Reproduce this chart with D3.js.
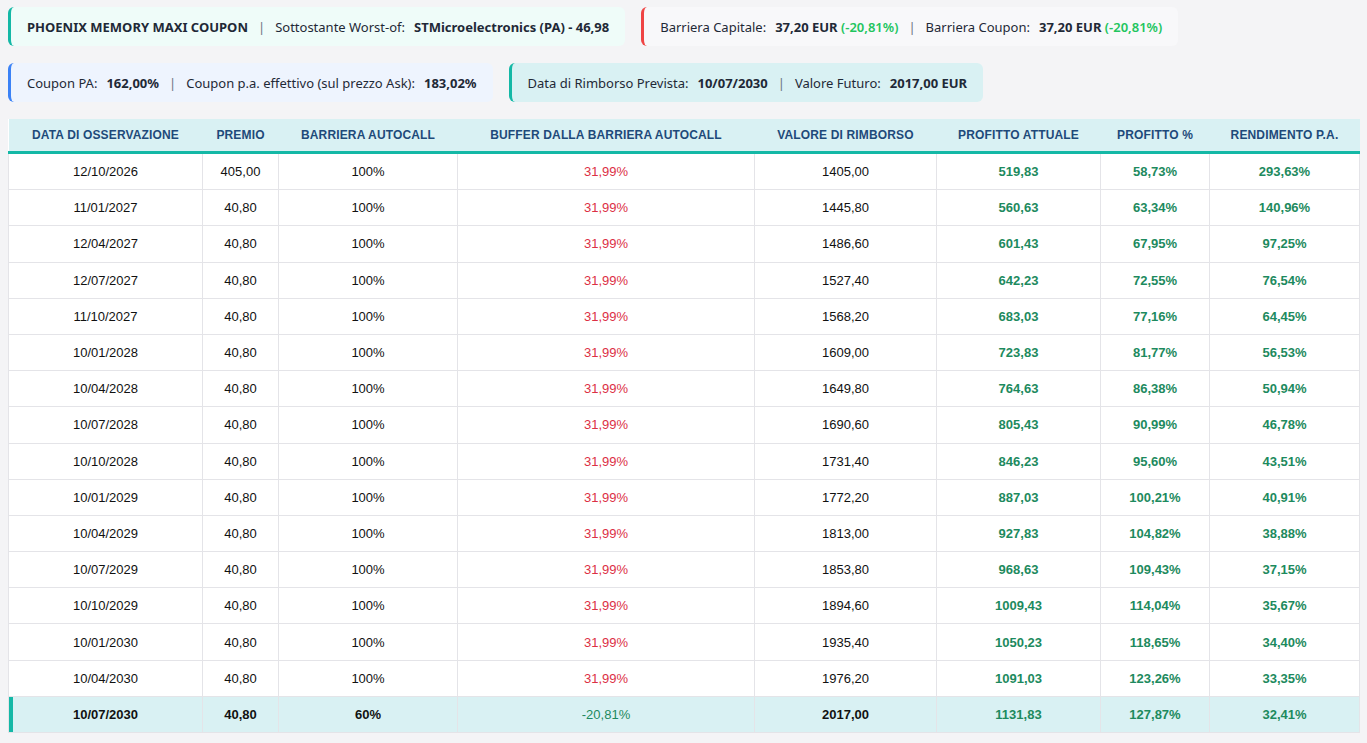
<!DOCTYPE html>
<html>
<head>
<meta charset="utf-8">
<script src="https://cdn.jsdelivr.net/npm/d3@7"></script>
<style>
  body { margin: 0; background: #f4f4f6; font-family: "Noto Sans", sans-serif; }
  #wrap { padding: 7px 8px; }
  .cards { display: flex; gap: 16px; margin-bottom: 17px; }
  .card { border-radius: 6px; border-left: 3px solid; padding: 0 16px 0 16px; height: 39px;
          display: flex; align-items: center; font-size: 13px; color: #1f2937; white-space: pre; }
  .card b { font-weight: 700; }
  .card b.v { margin-left: 9px; }
  .sep { color: #6b7280; margin: 0 10px; }
  .pos { color: #22c55e; font-weight: 600; }
  table { border-collapse: collapse; table-layout: fixed; width: 1351px; background: #fff;
          font-family: "Liberation Sans", Arial, sans-serif; margin-top: 1px; }
  th { background: #d9f1f3; color: #1e4a7a; font-size: 12px; font-weight: 700; height: 32px;
       border-bottom: 3px solid #14b8a6; padding: 0; letter-spacing: 0.15px; }
  td { height: 35.2px; text-align: center; font-size: 13px; color: #111; border: 1px solid #e4e4e8; padding: 0; }
  td.red { color: #dc2f45; }
  td.green { color: #1d8a5e; font-weight: 700; }
  tr.last td { background: #d9f1f3; font-weight: 700; }
  tr.last td:first-child { box-shadow: inset 4px 0 0 #14b8a6; }
</style>
</head>
<body>
<div id="wrap"></div>
<script>
// column headers
const headers = ["DATA DI OSSERVAZIONE", "PREMIO", "BARRIERA AUTOCALL", "BUFFER DALLA BARRIERA AUTOCALL",
  "VALORE DI RIMBORSO", "PROFITTO ATTUALE", "PROFITTO %", "RENDIMENTO P.A."];
const colWidths = [194, 76, 179, 297, 182, 164, 109, 150];

// table values
const dates = ["12/10/2026", "11/01/2027", "12/04/2027", "12/07/2027", "11/10/2027", "10/01/2028",
  "10/04/2028", "10/07/2028", "10/10/2028", "10/01/2029", "10/04/2029", "10/07/2029", "10/10/2029",
  "10/01/2030", "10/04/2030", "10/07/2030"];
const premi = ["405,00", "40,80", "40,80", "40,80", "40,80", "40,80", "40,80", "40,80", "40,80",
  "40,80", "40,80", "40,80", "40,80", "40,80", "40,80", "40,80"];
const barriere = ["100%", "100%", "100%", "100%", "100%", "100%", "100%", "100%", "100%", "100%",
  "100%", "100%", "100%", "100%", "100%", "60%"];
const buffer = ["31,99%", "31,99%", "31,99%", "31,99%", "31,99%", "31,99%", "31,99%", "31,99%",
  "31,99%", "31,99%", "31,99%", "31,99%", "31,99%", "31,99%", "31,99%", "-20,81%"];
const rimborsi = ["1405,00", "1445,80", "1486,60", "1527,40", "1568,20", "1609,00", "1649,80", "1690,60",
  "1731,40", "1772,20", "1813,00", "1853,80", "1894,60", "1935,40", "1976,20", "2017,00"];
const profitti = ["519,83", "560,63", "601,43", "642,23", "683,03", "723,83", "764,63", "805,43",
  "846,23", "887,03", "927,83", "968,63", "1009,43", "1050,23", "1091,03", "1131,83"];
const profittiPct = ["58,73%", "63,34%", "67,95%", "72,55%", "77,16%", "81,77%", "86,38%", "90,99%",
  "95,60%", "100,21%", "104,82%", "109,43%", "114,04%", "118,65%", "123,26%", "127,87%"];
const rendimenti = ["293,63%", "140,96%", "97,25%", "76,54%", "64,45%", "56,53%", "50,94%", "46,78%",
  "43,51%", "40,91%", "38,88%", "37,15%", "35,67%", "34,40%", "33,35%", "32,41%"];

// info cards: t = label, v = value after a label, b = plain bold, pos = green change
const cards = [
  { border: "#14b8a6", bg: "#effcf9", parts: [["b", "PHOENIX MEMORY MAXI COUPON"], ["sep"], ["t", "Sottostante Worst-of:"], ["v", "STMicroelectronics (PA) - 46,98"]] },
  { border: "#ef4444", bg: "#f8f8fa", parts: [["t", "Barriera Capitale:"], ["v", "37,20 EUR "], ["pos", "(-20,81%)"], ["sep"], ["t", "Barriera Coupon:"], ["v", "37,20 EUR "], ["pos", "(-20,81%)"]] },
  { border: "#3b82f6", bg: "#eef4fe", parts: [["t", "Coupon PA:"], ["v", "162,00%"], ["sep"], ["t", "Coupon p.a. effettivo (sul prezzo Ask):"], ["v", "183,02%"]] },
  { border: "#14b8a6", bg: "#d9f1f3", parts: [["t", "Data di Rimborso Prevista:"], ["v", "10/07/2030"], ["sep"], ["t", "Valore Futuro:"], ["v", "2017,00 EUR"]] }
];

const wrap = d3.select("#wrap");

[[cards[0], cards[1]], [cards[2], cards[3]]].forEach(pair => {
  const row = wrap.append("div").attr("class", "cards");
  pair.forEach(c => {
    const card = row.append("div").attr("class", "card")
      .style("border-color", c.border).style("background", c.bg);
    c.parts.forEach(p => {
      if (p[0] === "b") card.append("b").text(p[1]);
      else if (p[0] === "v") card.append("b").attr("class", "v").text(p[1]);
      else if (p[0] === "sep") card.append("span").attr("class", "sep").text("|");
      else if (p[0] === "pos") card.append("span").attr("class", "pos").text(p[1]);
      else card.append("span").text(p[1]);
    });
  });
});

const rows = dates.map((d, i) => [
  { v: d }, { v: premi[i] }, { v: barriere[i] },
  { v: buffer[i], cls: buffer[i].startsWith("-") ? "green" : "red" },
  { v: rimborsi[i] },
  { v: profitti[i], cls: "green" }, { v: profittiPct[i], cls: "green" }, { v: rendimenti[i], cls: "green" }
]);

const table = wrap.append("table");
table.append("colgroup").selectAll("col").data(colWidths).join("col").style("width", d => d + "px");
table.append("thead").append("tr").selectAll("th").data(headers).join("th").text(d => d);

table.append("tbody").selectAll("tr").data(rows).join("tr")
  .attr("class", (d, i) => i === rows.length - 1 ? "last" : null)
  .selectAll("td").data(d => d).join("td")
    .attr("class", d => d.cls || null)
    .text(d => d.v);

// buffer in last row shown green but not bold
table.select("tr.last").selectAll("td").filter((d, i) => i === 3).style("font-weight", 400);
</script>
</body>
</html>
